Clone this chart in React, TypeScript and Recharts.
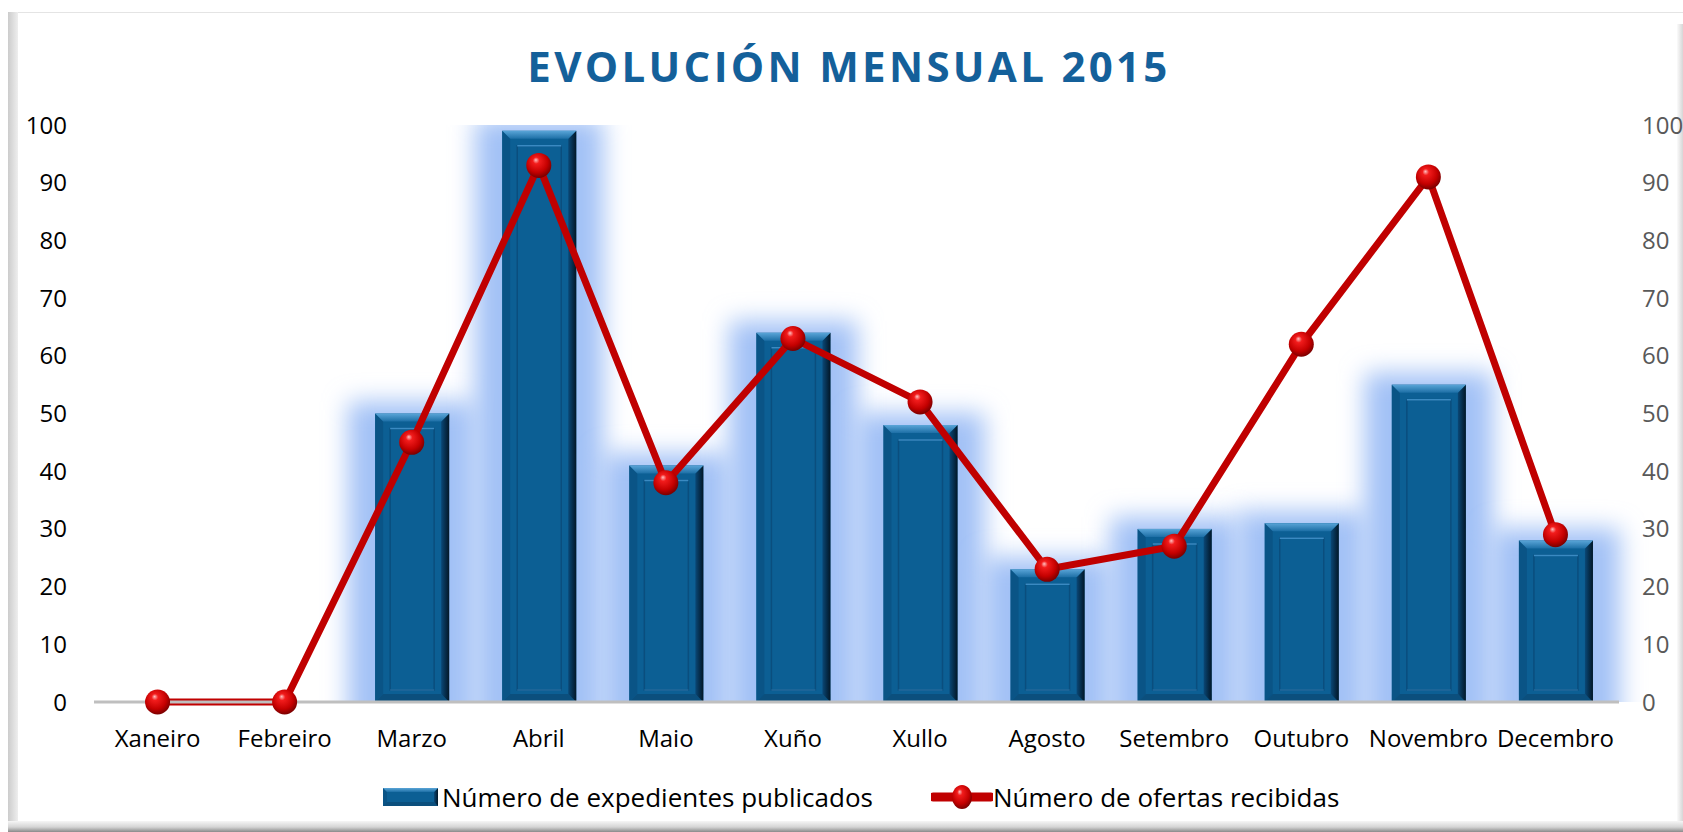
import React from 'react';
import { ComposedChart, Bar, Line, XAxis, YAxis, Legend } from 'recharts';

const months = [
  'Xaneiro', 'Febreiro', 'Marzo', 'Abril', 'Maio', 'Xuño',
  'Xullo', 'Agosto', 'Setembro', 'Outubro', 'Novembro', 'Decembro',
];
const expedientes = [0, 0, 50, 99, 41, 64, 48, 23, 30, 31, 55, 28];
const ofertas = [0, 0, 45, 93, 38, 63, 52, 23, 27, 62, 91, 29];
const yTicks = [0, 10, 20, 30, 40, 50, 60, 70, 80, 90, 100];

const BAR_NAME = 'Número de expedientes publicados';
const LINE_NAME = 'Número de ofertas recibidas';

const data = months.map((m, i) => ({
  month: m,
  expedientes: expedientes[i],
  ofertas: ofertas[i],
}));

const FONT = "'Open Sans', 'DejaVu Sans', sans-serif";

// bevelled blue rectangle, used for bars and the legend icon
const bevel = (id: string, x: number, y: number, w: number, h: number, b: number, inset: number) => {
  const showInner = w - inset * 2 > 4 && h - inset * 2 > 2;
  return (
    <g>
      <defs>
        <linearGradient id={`${id}-top`} x1="0" y1="0" x2="0" y2="1">
          <stop offset="0%" stopColor="#5aa5d8" />
          <stop offset="100%" stopColor="#1d6fa6" />
        </linearGradient>
        <linearGradient id={`${id}-right`} x1="0" y1="0" x2="1" y2="0">
          <stop offset="0%" stopColor="#0a4877" />
          <stop offset="100%" stopColor="#021626" />
        </linearGradient>
      </defs>
      <rect x={x} y={y} width={w} height={h} fill="#0c5f94" />
      <polygon points={`${x},${y} ${x + b},${y + b} ${x + b},${y + h - b} ${x},${y + h}`} fill="#0a5486" />
      <polygon points={`${x},${y + h} ${x + b},${y + h - b} ${x + w - b},${y + h - b} ${x + w},${y + h}`} fill="#0b4f7d" />
      <polygon points={`${x + w},${y} ${x + w},${y + h} ${x + w - b},${y + h - b} ${x + w - b},${y + b}`} fill={`url(#${id}-right)`} />
      <polygon points={`${x},${y} ${x + w},${y} ${x + w - b},${y + b} ${x + b},${y + b}`} fill={`url(#${id}-top)`} />
      {showInner && (
        <g>
          <rect x={x + inset} y={y + inset} width={w - inset * 2} height={h - inset - b - 4}
            fill="none" stroke="#0a4e7e" strokeWidth={1.5} />
          <line x1={x + inset} y1={y + inset} x2={x + w - inset} y2={y + inset} stroke="#3a8ac2" strokeWidth={1.5} />
          <line x1={x + inset} y1={y + h - b - 4} x2={x + w - inset} y2={y + h - b - 4} stroke="#2f78ad" strokeWidth={1.2} />
        </g>
      )}
    </g>
  );
};

const GlowBar = (props: any) => {
  const { x, y, width: w, height: h, index, background } = props;
  if (!h || h <= 0) return null;
  const top = background && typeof background.y === 'number' ? background.y : y - 40;
  const bottom = y + h;
  const id = `bar-${index}`;
  return (
    <g>
      <defs>
        <filter id={`${id}-f`} filterUnits="userSpaceOnUse" x={x - 100} y={y - 100} width={w + 200} height={h + 220}>
          <feGaussianBlur stdDeviation={12} />
        </filter>
        <clipPath id={`${id}-c`}>
          <rect x={x - 100} y={top} width={w + 200} height={bottom - top} />
        </clipPath>
      </defs>
      <g clipPath={`url(#${id}-c)`}>
        <rect x={x - 27} y={y - 12} width={w + 54} height={h + 60} fill="#a2c1f6" filter={`url(#${id}-f)`} />
      </g>
      {bevel(id, x, y, w, h, 8, 15)}
    </g>
  );
};

const sphere = (id: string, cx: number, cy: number, rx: number, ry: number) => (
  <g>
    <defs>
      <radialGradient id={id} cx="45%" cy="40%" r="60%" fx="38%" fy="28%">
        <stop offset="0%" stopColor="#ffc0c0" />
        <stop offset="22%" stopColor="#f21c1c" />
        <stop offset="70%" stopColor="#c40000" />
        <stop offset="100%" stopColor="#7a0000" />
      </radialGradient>
    </defs>
    <ellipse cx={cx} cy={cy} rx={rx} ry={ry} fill={`url(#${id})`} />
  </g>
);

const SphereDot = (props: any) => {
  const { cx, cy, index } = props;
  if (cx == null || cy == null) return null;
  return <g key={`dot-${index}`}>{sphere(`sph-${index}`, cx, cy, 12.5, 12.5)}</g>;
};

const MonthTick = (props: any) => {
  const { x, y, payload } = props;
  return (
    <text x={x} y={y} dy="0.35em" textAnchor="middle" fill="#000" fontSize={24} fontFamily={FONT}>
      {payload.value}
    </text>
  );
};

const renderLegend = () => (
  <div style={{ display: 'flex', alignItems: 'center', fontFamily: FONT, fontSize: 26, color: '#000', whiteSpace: 'nowrap' }}>
    <svg width={56} height={20} style={{ display: 'block', marginRight: 3 }}>
      {bevel('leg-bar', 0, 1, 55, 18, 4, 100)}
    </svg>
    <span>{BAR_NAME}</span>
    <svg width={62} height={26} style={{ display: 'block', marginLeft: 58 }}>
      <line x1={2} y1={13} x2={60} y2={13} stroke="#c00000" strokeWidth={9} strokeLinecap="round" />
      {sphere('leg-sph', 31, 13, 10, 12)}
    </svg>
    <span>{LINE_NAME}</span>
  </div>
);

export default function App() {
  return (
    <div style={{ position: 'absolute', left: 0, top: 0, width: 1683, height: 832, background: '#fff', overflow: 'hidden' }}>
      {/* chart area frame */}
      <div style={{ position: 'absolute', left: 8, top: 12, width: 1675, height: 1, background: '#e4e4e4' }} />
      <div style={{ position: 'absolute', left: 8, top: 12, width: 10, height: 812, background: 'linear-gradient(to right, #cccccc, #eeeeee)' }} />
      <div style={{ position: 'absolute', left: 1677, top: 24, width: 6, height: 798, background: 'linear-gradient(to right, #fbfbfb, #d6d6d6)' }} />
      <div style={{ position: 'absolute', left: 8, top: 821, width: 1675, height: 11, background: 'linear-gradient(to bottom, #f6f6f6, #d4d4d4 55%, #8a8a8a)' }} />

      <div style={{
        position: 'absolute', left: 0, top: 40, width: 1698, textAlign: 'center',
        fontFamily: FONT, fontWeight: 700, fontSize: 42, lineHeight: '52px',
        letterSpacing: 3.3, color: '#14609a',
      }}>
        EVOLUCIÓN MENSUAL 2015
      </div>

      <div style={{ position: 'absolute', left: 0, top: 0 }}>
        <ComposedChart width={1683} height={832} data={data}
          margin={{ top: 125, right: 0, bottom: 0, left: 0 }} barSize={74}>
          <XAxis dataKey="month" height={130} tickLine={false} tickSize={0} tickMargin={37}
            axisLine={{ stroke: '#bfbfbf', strokeWidth: 3 }} tick={<MonthTick />} interval={0} />
          <YAxis yAxisId="left" orientation="left" width={94} domain={[0, 100]} ticks={yTicks}
            axisLine={false} tickLine={false} tickSize={0} tickMargin={27}
            tick={{ fill: '#000', fontSize: 24, fontFamily: FONT }} />
          <YAxis yAxisId="right" orientation="right" width={64} domain={[0, 100]} ticks={yTicks}
            axisLine={false} tickLine={false} tickSize={0} tickMargin={23}
            tick={{ fill: '#595959', fontSize: 24, fontFamily: FONT, textAnchor: 'start' }} />
          <Bar yAxisId="left" dataKey="expedientes" name={BAR_NAME} shape={<GlowBar />}
            isAnimationActive={false} />
          <Line yAxisId="right" dataKey="ofertas" name={LINE_NAME} type="linear"
            stroke="#c00000" strokeWidth={7} dot={(p: any) => <SphereDot key={`d-${p.index}`} {...p} />}
            activeDot={false} isAnimationActive={false} />
          <Legend layout="horizontal" verticalAlign="middle" align="center"
            wrapperStyle={{ top: 779, left: 383, width: 1100, height: 36 }} content={renderLegend} />
        </ComposedChart>
      </div>
    </div>
  );
}
